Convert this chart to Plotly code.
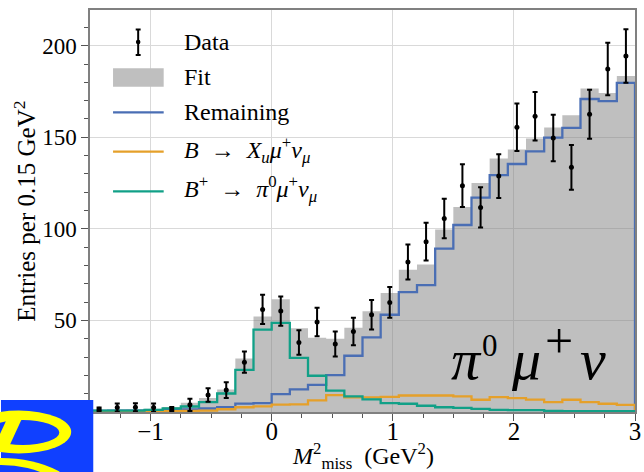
import plotly.graph_objects as go

# ---- binning: 30 bins of 0.15 GeV^2 from -1.5 to 3.0 ----
BIN_LO = -1.5
BIN_W = 0.15
N_BINS = 30
edges = [round(BIN_LO + BIN_W * i, 3) for i in range(N_BINS + 1)]
centers = [round(BIN_LO + BIN_W * (i + 0.5), 3) for i in range(N_BINS)]

# ---- data (entries per bin) ----
data_counts = [1.5, 2.5, 2.6, 2.4, 1.6, 3.9, 9.3, 12.0, 27.2, 56.0,
               55.1, 38.0, 49.1, 37.1, 44.0, 53.1, 59.8, 81.9, 93.0, 105.7,
               123.6, 111.7, 128.8, 155.5, 161.5, 149.6, 133.6, 162.6, 187.3, 194.4]
data_err = [1.0, 2.2, 2.2, 2.2, 1.1, 3.3, 3.7, 4.3, 5.8, 8.0,
            8.0, 6.7, 7.8, 6.8, 7.5, 8.0, 8.4, 9.5, 10.3, 10.8,
            11.7, 11.0, 11.9, 13.0, 13.2, 12.7, 12.2, 13.4, 14.3, 14.6]

# ---- fit result and its components ----
fit_total = [1.3, 1.4, 1.5, 1.8, 2.7, 5.0, 7.6, 12.3, 29.2, 52.1,
             61.5, 45.7, 40.5, 40.0, 46.0, 55.0, 65.0, 77.7, 80.6, 99.7,
             111.9, 125.0, 138.4, 143.3, 149.3, 155.3, 162.0, 176.6, 174.2, 183.5]
remaining = [0.6, 0.7, 0.7, 0.8, 1.0, 1.4, 1.9, 2.7, 4.6, 4.8,
             9.8, 12.3, 14.8, 20.1, 30.7, 40.7, 53.1, 65.5, 69.3, 89.2,
             102.1, 117.0, 129.3, 135.4, 142.3, 149.8, 155.1, 170.9, 169.7, 179.7]
b_xu_mu_nu = [0.2, 0.2, 0.2, 0.2, 0.4, 0.6, 0.8, 1.5, 2.6, 3.1,
              4.0, 4.2, 6.4, 9.2, 8.0, 8.0, 8.3, 9.0, 9.0, 9.0,
              8.5, 6.7, 8.1, 7.6, 6.8, 5.4, 6.7, 5.4, 4.5, 3.9]
b_pi0_mu_nu = [0.8, 0.8, 0.8, 1.2, 2.0, 3.0, 5.4, 10.1, 23.0, 45.0,
               48.7, 29.6, 19.8, 11.7, 8.5, 6.9, 4.9, 4.5, 3.4, 2.6,
               2.3, 1.7, 1.2, 1.0, 1.0, 0.6, 0.5, 0.5, 0.4, 0.4]

# ---- axis ticks ----
x_ticks = [-1, 0, 1, 2, 3]
x_ticklabels = ["\u22121", "0", "1", "2", "3"]
y_ticks = [0, 50, 100, 150, 200]

# ---- styling ----
FONT = "Liberation Serif"
C_FIT = "rgba(128,128,128,0.5)"
C_FIT_PATCH = "#bfbfbf"
C_REM = "#4a6eb4"
C_XU = "#e5a02a"
C_PI0 = "#11a087"
C_LOGO_BLUE = "#1040ff"
C_LOGO_YEL = "#ffff00"

W, H = 644, 472
ML, MR, MT, MB = 90, 3, 10, 60
PW, PH = W - ML - MR, H - MT - MB


def px(x):
    """figure pixel x -> paper coordinate"""
    return (x - ML) / PW


def py(y):
    """figure pixel y (from top) -> paper coordinate"""
    return 1 - (y - MT) / PH


def step(values):
    """outline of a histogram drawn with hv steps, closed down to zero"""
    xs = [edges[0]] + edges[:-1] + [edges[-1], edges[-1]]
    ys = [0] + list(values) + [values[-1], 0]
    return xs, ys


fig = go.Figure()

# filled fit histogram
fx, fy = step(fit_total)
fig.add_trace(go.Scatter(x=fx, y=fy, mode="lines", line=dict(width=0, shape="hv"),
                         fill="tozeroy", fillcolor=C_FIT, hoverinfo="skip",
                         name="Fit"))

# component outlines
for vals, col, name in [(remaining, C_REM, "Remaining"),
                        (b_xu_mu_nu, C_XU, "B -> Xu mu nu"),
                        (b_pi0_mu_nu, C_PI0, "B+ -> pi0 mu nu")]:
    sx, sy = step(vals)
    fig.add_trace(go.Scatter(x=sx, y=sy, mode="lines",
                             line=dict(color=col, width=2.3, shape="hv"),
                             name=name))

# data points with error bars
fig.add_trace(go.Scatter(x=centers, y=data_counts, mode="markers",
                         marker=dict(color="black", size=5),
                         error_y=dict(type="data", array=data_err, color="black",
                                      thickness=2, width=2.5),
                         name="Data"))

axis_common = dict(
    showline=True, linecolor="#808080", linewidth=1.5, mirror=True,
    showgrid=True, gridcolor="#d9d9d9", gridwidth=1,
    zeroline=False, ticks="outside", ticklen=7, tickwidth=1.2,
    tickcolor="#555555", ticklabeloverflow="allow",
)

fig.update_xaxes(range=[-1.5, 3.0], tickvals=x_ticks, ticktext=x_ticklabels,
                 tickfont=dict(family=FONT, size=25, color="black"),
                 minor=dict(dtick=0.25, tick0=0, ticks="outside", ticklen=4,
                            tickcolor="#555555", showgrid=False),
                 ticklabelstandoff=-11,
                 **axis_common)
fig.update_yaxes(range=[0, 219.5], tickvals=y_ticks,
                 tickfont=dict(family=FONT, size=23, color="black"),
                 minor=dict(dtick=10, tick0=0, ticks="outside", ticklen=4,
                            tickcolor="#555555", showgrid=False),
                 ticklabelstandoff=0,
                 **axis_common)

shapes = []
annotations = []

# ---- legend ----
LEG_X0, LEG_X1 = 113.3, 164.5
TEXT_X = 183.3
# Data symbol: error bar with caps and a point
ex = 138.7
shapes.append(dict(type="line", xref="paper", yref="paper",
                   x0=px(ex), x1=px(ex), y0=py(29.5), y1=py(55),
                   line=dict(color="black", width=2)))
for cy in (29.5, 55):
    shapes.append(dict(type="line", xref="paper", yref="paper",
                       x0=px(ex - 2.5), x1=px(ex + 2.5), y0=py(cy), y1=py(cy),
                       line=dict(color="black", width=2)))
shapes.append(dict(type="circle", xref="paper", yref="paper",
                   x0=px(ex - 2.3), x1=px(ex + 2.3), y0=py(44.3), y1=py(39.7),
                   fillcolor="black", line=dict(width=0)))
# Fit patch
shapes.append(dict(type="rect", xref="paper", yref="paper",
                   x0=px(LEG_X0), x1=px(LEG_X1), y0=py(86.7), y1=py(68.3),
                   fillcolor=C_FIT_PATCH, line=dict(width=0)))
# component lines
for yy, col in [(112.3, C_REM), (151.7, C_XU), (191.3, C_PI0)]:
    shapes.append(dict(type="line", xref="paper", yref="paper",
                       x0=px(LEG_X0), x1=px(LEG_X1), y0=py(yy), y1=py(yy),
                       line=dict(color=col, width=2.3)))

ARROW = "\u2002\u2192\u2002"
legend_texts = [
    ("Data", 42),
    ("Fit", 77),
    ("Remaining", 112),
    ("<i>B</i>" + ARROW + "<i>X</i><sub><i>u</i></sub><i>\u03bc</i><sup>+</sup>"
     "<i>\u03bd</i><sub><i>\u03bc</i></sub>", 150),
    ("<i>B</i><sup>+</sup>" + ARROW + "<i>\u03c0</i><sup>0</sup><i>\u03bc</i><sup>+</sup>"
     "<i>\u03bd</i><sub><i>\u03bc</i></sub>", 189),
]
for txt, yy in legend_texts:
    annotations.append(dict(text=txt, xref="paper", yref="paper",
                            x=px(TEXT_X), y=py(yy), xanchor="left", yanchor="middle",
                            showarrow=False,
                            font=dict(family=FONT, size=24, color="black")))

# ---- axis titles ----
annotations.append(dict(text="Entries per 0.15 GeV<sup>2</sup>", xref="paper", yref="paper",
                        x=px(24), y=py(211), xanchor="center", yanchor="middle",
                        textangle=-90, showarrow=False,
                        font=dict(family=FONT, size=25, color="black")))
annotations.append(dict(text="<i>M</i><sup>2</sup><sub>miss</sub>  (GeV<sup>2</sup>)",
                        xref="paper", yref="paper",
                        x=px(366), y=py(456), xanchor="center", yanchor="middle",
                        showarrow=False,
                        font=dict(family=FONT, size=24, color="black")))

# ---- channel label pi0 mu+ nu, one glyph at a time ----
# (glyph, centre x in px, baseline y in px, font size)
channel_glyphs = [
    ("<i>\u03c0</i>", 471, 381, 58),
    ("0", 494, 358, 31),
    ("<i>\u03bc</i>", 531, 381, 58),
    ("+", 564, 360, 50),
    ("<i>\u03bd</i>", 599, 381, 58),
]
for g, gx, gy, gs in channel_glyphs:
    annotations.append(dict(text=g, xref="paper", yref="paper",
                            x=px(gx), y=py(gy + 0.216 * gs),
                            xanchor="center", yanchor="bottom", showarrow=False,
                            font=dict(family=FONT, size=gs, color="black")))

# ---- experiment logo (bottom-left corner) ----
logo = [
    dict(type="rect", x0=px(0), x1=px(93.3), y0=py(472), y1=py(400),
         fillcolor=C_LOGO_BLUE),
    dict(type="circle", x0=px(-35), x1=px(71), y0=py(453.5), y1=py(410.5),
         fillcolor=C_LOGO_YEL),
    dict(type="circle", x0=px(-15), x1=px(59), y0=py(445), y1=py(420),
         fillcolor=C_LOGO_BLUE),
    dict(type="path",
         path="M {} {} L {} {} L {} {} L {} {} Z".format(px(6), py(419), px(21), py(419),
                                                         px(8), py(447), px(-7), py(447)),
         fillcolor=C_LOGO_YEL),
    dict(type="circle", x0=px(-80), x1=px(80), y0=py(542), y1=py(458),
         fillcolor=C_LOGO_YEL),
    dict(type="circle", x0=px(-70), x1=px(70), y0=py(545), y1=py(465),
         fillcolor=C_LOGO_BLUE),
]
for s in logo:
    s.update(xref="paper", yref="paper", layer="above", line=dict(width=0))
    shapes.append(s)

fig.update_layout(
    width=W, height=H,
    margin=dict(l=ML, r=MR, t=MT, b=MB),
    paper_bgcolor="white", plot_bgcolor="white",
    showlegend=False,
    shapes=shapes,
    annotations=annotations,
    font=dict(family=FONT, color="black"),
)

fig.write_html("out.html")
